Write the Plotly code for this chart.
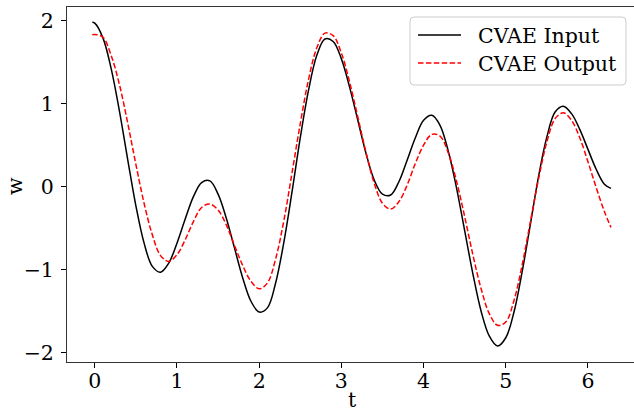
import plotly.graph_objects as go

t = [-0.03, 0.0, 0.1, 0.2, 0.3, 0.4, 0.5, 0.6, 0.7, 0.8, 0.9,
     1.0, 1.1, 1.2, 1.3, 1.4, 1.5, 1.6, 1.7, 1.8, 1.9,
     2.0, 2.1, 2.2, 2.3, 2.4, 2.5, 2.6, 2.7, 2.8, 2.9,
     3.0, 3.1, 3.2, 3.3, 3.4, 3.5, 3.6, 3.7, 3.8, 3.9,
     4.0, 4.1, 4.2, 4.3, 4.4, 4.5, 4.6, 4.7, 4.8, 4.9,
     5.0, 5.1, 5.2, 5.3, 5.4, 5.5, 5.6, 5.7, 5.8, 5.9,
     6.0, 6.1, 6.2, 6.28]

w_input = [1.98, 1.97, 1.79, 1.42, 0.91, 0.33, -0.23, -0.68, -0.96, -1.03, -0.92,
           -0.68, -0.39, -0.12, 0.05, 0.07, -0.09, -0.38, -0.74, -1.10, -1.38,
           -1.51, -1.46, -1.16, -0.67, -0.06, 0.59, 1.16, 1.58, 1.78, 1.75,
           1.54, 1.20, 0.80, 0.40, 0.08, -0.09, -0.10, 0.06, 0.32, 0.59,
           0.80, 0.86, 0.74, 0.43, -0.01, -0.53, -1.05, -1.50, -1.80, -1.92,
           -1.82, -1.51, -1.02, -0.45, 0.13, 0.60, 0.90, 0.97, 0.88, 0.69,
           0.45, 0.21, 0.03, -0.02]

w_output = [1.83, 1.835, 1.80, 1.58, 1.23, 0.77, 0.27, -0.20, -0.58, -0.83, -0.90,
            -0.82, -0.64, -0.42, -0.25, -0.21, -0.28, -0.46, -0.71, -0.95, -1.14,
            -1.23, -1.16, -0.87, -0.41, 0.17, 0.76, 1.29, 1.67, 1.85, 1.82,
            1.61, 1.26, 0.84, 0.41, 0.04, -0.20, -0.27, -0.18, 0.02, 0.28,
            0.50, 0.63, 0.61, 0.41, 0.07, -0.36, -0.82, -1.23, -1.53, -1.67,
            -1.63, -1.37, -0.94, -0.42, 0.10, 0.54, 0.82, 0.89, 0.80, 0.59,
            0.30, -0.01, -0.30, -0.49]

series_names = ["CVAE Input", "CVAE Output"]
series_colors = ["black", "red"]

x_ticks = [0, 1, 2, 3, 4, 5, 6]
y_ticks = [-2, -1, 0, 1, 2]
y_tick_text = ["\u22122", "\u22121", "0", "1", "2"]

FONT = "DejaVu Serif"
FS = 20.5
DASH = "5.5px,2.4px"

W, H = 634, 411
ML, MR, MT, MB = 67, 0, 7, 49
PW, PH = W - ML - MR, H - MT - MB


def px_x(px):
    return (px - ML) / PW


def px_y(py):
    return (H - MB - py) / PH


fig = go.Figure()
fig.add_trace(go.Scatter(x=t, y=w_input, mode="lines", name=series_names[0],
                         line=dict(color=series_colors[0], width=1.5, shape="spline",
                                   smoothing=1.0)))
fig.add_trace(go.Scatter(x=t, y=w_output, mode="lines", name=series_names[1],
                         line=dict(color=series_colors[1], width=1.5, dash=DASH,
                                   shape="spline", smoothing=1.0)))

# Legend drawn by hand (rounded frame like matplotlib)
bx0, bx1, by0, by1, r = 410, 626, 17, 85, 4
x0, x1 = px_x(bx0), px_x(bx1)
y0, y1 = px_y(by1), px_y(by0)
rx, ry = r / PW, r / PH
path = (f"M {x0+rx},{y0} L {x1-rx},{y0} Q {x1},{y0} {x1},{y0+ry} "
        f"L {x1},{y1-ry} Q {x1},{y1} {x1-rx},{y1} L {x0+rx},{y1} "
        f"Q {x0},{y1} {x0},{y1-ry} L {x0},{y0+ry} Q {x0},{y0} {x0+rx},{y0} Z")
shapes = [dict(type="path", xref="paper", yref="paper", path=path,
               fillcolor="rgba(255,255,255,0.8)", line=dict(color="#cccccc", width=1),
               layer="above")]
annotations = []
row_y = [35, 63]
for name, col, ry_px, dash in zip(series_names, series_colors, row_y, ["solid", DASH]):
    shapes.append(dict(type="line", xref="paper", yref="paper",
                       x0=px_x(418), x1=px_x(461), y0=px_y(ry_px), y1=px_y(ry_px),
                       line=dict(color=col, width=1.5, dash=dash), layer="above"))
    annotations.append(dict(text=name, xref="paper", yref="paper", x=px_x(476),
                            y=px_y(ry_px + 1), xanchor="left", yanchor="middle",
                            showarrow=False, font=dict(family=FONT, size=FS, color="black")))

# axis titles
annotations.append(dict(text="t", xref="paper", yref="paper", x=px_x(352), y=px_y(399.5),
                        xanchor="center", yanchor="middle", showarrow=False,
                        font=dict(family=FONT, size=FS, color="black")))
annotations.append(dict(text="w", xref="paper", yref="paper", x=px_x(15), y=px_y(186),
                        xanchor="center", yanchor="middle", showarrow=False, textangle=-90,
                        font=dict(family=FONT, size=FS, color="black")))

fig.update_layout(
    width=W, height=H,
    margin=dict(l=ML, r=MR, t=MT, b=MB, autoexpand=False),
    paper_bgcolor="white", plot_bgcolor="white",
    font=dict(family=FONT, size=FS, color="black"),
    showlegend=False,
    shapes=shapes, annotations=annotations,
    xaxis=dict(range=[-0.338, 6.56], tickvals=x_ticks, ticks="outside", ticklen=5,
               tickwidth=1, tickcolor="black", showgrid=False, zeroline=False,
               showline=True, linecolor="#333333", linewidth=1, mirror=True,
               automargin=False, ticklabelstandoff=-5),
    yaxis=dict(range=[-2.112, 2.165], tickvals=y_ticks, ticktext=y_tick_text,
               ticks="outside", ticklen=5, tickwidth=1, tickcolor="black",
               showgrid=False, zeroline=False, showline=True, linecolor="#333333",
               linewidth=1, mirror=False, automargin=False, ticklabelstandoff=3),
)

fig.write_html("out.html", config={"displayModeBar": False},
               post_script="document.body.style.margin='0';document.body.style.overflow='hidden';")
